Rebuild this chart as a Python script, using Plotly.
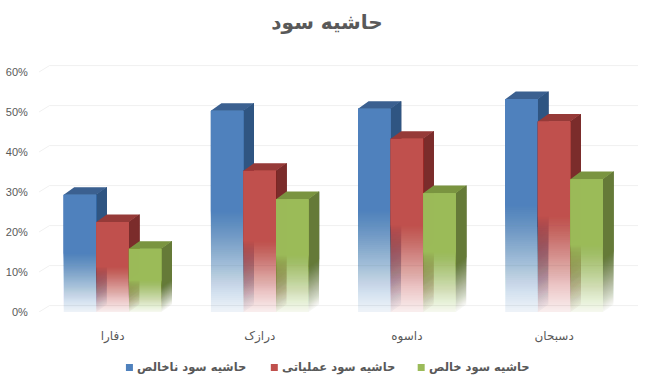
import plotly.graph_objects as go

title = "حاشیه سود"
categories = ["دفارا", "درازک", "داسوه", "دسبحان"]
gross = [29.3, 50.3, 50.8, 53.2]
operating = [22.5, 35.3, 43.3, 47.6]
net = [15.8, 28.2, 29.7, 33.2]
series_names = ["حاشیه سود ناخالص", "حاشیه سود عملیاتی", "حاشیه سود خالص"]
y_ticks = [0, 10, 20, 30, 40, 50, 60]
y_labels = ["0%", "10%", "20%", "30%", "40%", "50%", "60%"]

series = [gross, operating, net]
front = ["79,129,189", "192,80,77", "155,187,89"]
side = ["47,85,130", "123,44,43", "101,122,56"]
top = ["59,96,144", "150,58,56", "122,148,64"]
offsets = [-0.2213, 0, 0.2213]
W = 0.2213
DX, DY = 0.0713, 1.9
GREY = "#595959"
FONT = "DejaVu Sans"
NUM_FONT = "Liberation Sans, DejaVu Sans"

L, R, T, B = 39, 19.5, 64, 66
PW, PH = 658 - L - R, 378 - T - B


def px_x(p):
    return (p - L) / PW


def px_y(p):
    return (378 - B - p) / PH


fig = go.Figure()


def poly(xs, ys, color):
    fig.add_trace(go.Scatter(x=xs, y=ys, mode="lines", fill="toself", fillcolor=color,
                             line=dict(width=0), showlegend=False, hoverinfo="skip"))


# back wall grid
gx, gy = [], []
for v in y_ticks:
    gx += [-0.5, -0.5 + DX, 3.57, None]
    gy += [v, v + 1.6, v + 1.6, None]
fig.add_trace(go.Scatter(x=gx, y=gy, mode="lines", line=dict(color="#F0F0F0", width=1),
                         showlegend=False, hoverinfo="skip"))


def layers(levels):
    """Cumulative alpha layers: (lower fraction, layer alpha)."""
    out, prev = [], 0.0
    for f, o in levels:
        out.append((f, 1 - (1 - o) / (1 - prev)))
        prev = o
    return out


N = 50
front_lv = [(0.5 * k / N, min(0.999, 0.1 + 0.9 * (k / N) ** 1.1)) for k in range(N + 1)]
side_lv = [(0.4 * k / N, min(0.999, 0.05 + 0.95 * k / N)) for k in range(N + 1)]

for s, vals in enumerate(series):
    for f, a in layers(side_lv):
        xs, ys = [], []
        for i, v in enumerate(vals):
            x1 = i + offsets[s] + W / 2
            xs += [x1, x1, x1 + DX, x1 + DX, x1, None]
            ys += [f * v, v, v + DY, f * v + DY, f * v, None]
        poly(xs, ys, f"rgba({side[s]},{a:.4f})")
    xs, ys = [], []
    for i, v in enumerate(vals):
        x0 = i + offsets[s] - W / 2
        xs += [x0, x0 + W, x0 + W + DX, x0 + DX, x0, None]
        ys += [v, v, v + DY, v + DY, v, None]
    poly(xs, ys, f"rgb({top[s]})")
    for f, a in layers(front_lv):
        xs, ys = [], []
        for i, v in enumerate(vals):
            x0 = i + offsets[s] - W / 2
            xs += [x0, x0 + W, x0 + W, x0, x0, None]
            ys += [f * v, f * v, v, v, f * v, None]
        poly(xs, ys, f"rgba({front[s]},{a:.4f})")

# legend drawn beside its swatches, placed as in the reference
legend_text_centres = [191.7, 338.3, 479.8]
legend_swatch_left = [126, 271, 418]
annotations = []
shapes = []
for s, name in enumerate(series_names):
    annotations.append(dict(text=name, xref="paper", yref="paper", x=px_x(legend_text_centres[s]),
                            y=px_y(367), xanchor="center", yanchor="middle", showarrow=False,
                            font=dict(family=FONT, size=11.5, color=GREY, weight="bold")))
    shapes.append(dict(type="rect", xref="paper", yref="paper", x0=px_x(legend_swatch_left[s]),
                       x1=px_x(legend_swatch_left[s] + 7), y0=px_y(371), y1=px_y(364),
                       fillcolor=f"rgb({front[s]})", line=dict(width=0)))

fig.update_layout(
    width=658, height=378, paper_bgcolor="white", plot_bgcolor="white",
    margin=dict(l=L, r=R, t=T, b=B, autoexpand=False),
    title=dict(text=title, x=0.497, xanchor="center", y=0.942, yanchor="middle",
               font=dict(family=FONT, size=20, color=GREY, weight="bold")),
    xaxis=dict(range=[-0.5, 3.57], tickmode="array", tickvals=[0, 1, 2, 3], ticktext=categories,
               showgrid=False, zeroline=False, showline=False, ticks="outside", ticklen=13,
               tickcolor="rgba(255,255,255,0)", tickfont=dict(family=FONT, size=12, color=GREY)),
    yaxis=dict(range=[0, 62], tickmode="array", tickvals=y_ticks, ticktext=y_labels,
               showgrid=False, zeroline=False, showline=False, ticks="outside", ticklen=8,
               tickcolor="rgba(255,255,255,0)", tickfont=dict(family=NUM_FONT, size=11, color=GREY)),
    showlegend=False,
    annotations=annotations,
    shapes=shapes,
)

fig.write_html("out.html", config=dict(displayModeBar=False),
               post_script="document.body.style.margin='0';document.documentElement.style.overflow='hidden';")
